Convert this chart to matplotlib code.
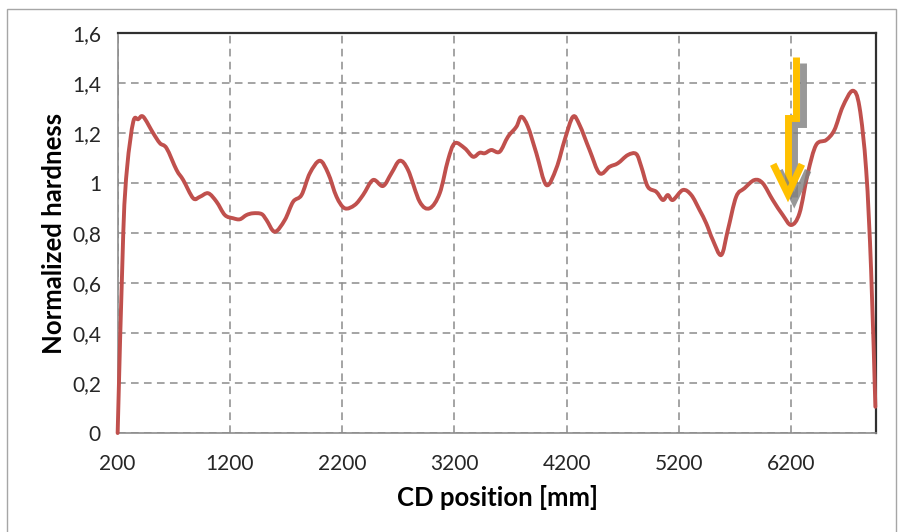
import matplotlib
matplotlib.use("Agg")
import matplotlib.pyplot as plt
import matplotlib.patheffects as pe
from matplotlib.patches import Rectangle, PathPatch
from matplotlib.path import Path

# ---- data ----
cd_position = [200, 250, 285, 339, 383, 428, 517, 577, 636, 725, 784, 873, 933, 1007,
               1081, 1155, 1229, 1289, 1348, 1407, 1482, 1526, 1600, 1689, 1763, 1838,
               1912, 2001, 2075, 2150, 2223, 2312, 2386, 2475, 2564, 2639, 2713, 2787,
               2891, 2980, 3069, 3143, 3203, 3292, 3366, 3425, 3470, 3529, 3603, 3677,
               3752, 3796, 3855, 3930, 4019, 4108, 4182, 4256, 4315, 4404, 4493, 4582,
               4656, 4745, 4820, 4865, 4923, 4998, 5057, 5101, 5146, 5235, 5310, 5384,
               5443, 5502, 5577, 5636, 5710, 5784, 5873, 5947, 6036, 6125, 6200, 6274,
               6348, 6422, 6512, 6585, 6659, 6748, 6808, 6868, 6912, 6950]
hardness = [0.0, 0.80, 1.065, 1.245, 1.255, 1.265, 1.199, 1.159, 1.139, 1.052, 1.012,
            0.939, 0.945, 0.959, 0.925, 0.872, 0.859, 0.855, 0.872, 0.879, 0.876, 0.852,
            0.805, 0.852, 0.925, 0.952, 1.039, 1.089, 1.039, 0.945, 0.899, 0.912, 0.952,
            1.012, 0.988, 1.039, 1.089, 1.052, 0.925, 0.899, 0.959, 1.092, 1.159, 1.139,
            1.105, 1.121, 1.119, 1.132, 1.125, 1.185, 1.225, 1.265, 1.225, 1.119, 0.992,
            1.059, 1.172, 1.265, 1.232, 1.132, 1.039, 1.065, 1.079, 1.112, 1.116, 1.065,
            0.985, 0.965, 0.932, 0.952, 0.932, 0.972, 0.952, 0.892, 0.839, 0.772, 0.712,
            0.812, 0.945, 0.979, 1.012, 0.999, 0.932, 0.872, 0.832, 0.879, 1.039, 1.152,
            1.172, 1.212, 1.305, 1.369, 1.305, 1.052, 0.652, 0.105]

x_ticks = [200, 1200, 2200, 3200, 4200, 5200, 6200]
y_ticks = [0, 0.2, 0.4, 0.6, 0.8, 1.0, 1.2, 1.4, 1.6]
y_tick_labels = ["0", "0,2", "0,4", "0,6", "0,8", "1", "1,2", "1,4", "1,6"]

# annotation arrow (data coordinates)
arrow_shaft_x = [6247, 6247, 6171, 6171]
arrow_shaft_y = [1.504, 1.26, 1.26, 0.97]
arrow_head_x = [6040, 6171, 6295]
arrow_head_y = [1.075, 0.955, 1.075]

FONT = "Lato"

fig = plt.figure(figsize=(9.05, 5.32), dpi=100)
fig.patch.set_facecolor("white")

# outer chart border
fig.patches.append(Rectangle((7 / 905, -0.05), (896 - 7) / 905, 1.05 - 9 / 532,
                             transform=fig.transFigure, fill=False,
                             edgecolor="#a6a6a6", linewidth=1.0))

ax = fig.add_axes([0.130, 0.186, 0.8385, 0.752])
ax.set_xlim(200, 6960)
ax.set_ylim(0, 1.6)

# smoothed line (Bezier segments through the data points, like a spreadsheet "smoothed line")
xs, ys = cd_position, hardness
n = len(xs)
verts = [(xs[0], ys[0])]
codes = [Path.MOVETO]
for i in range(n - 1):
    x0, y0 = xs[max(i - 1, 0)], ys[max(i - 1, 0)]
    x1, y1 = xs[i], ys[i]
    x2, y2 = xs[i + 1], ys[i + 1]
    x3, y3 = xs[min(i + 2, n - 1)], ys[min(i + 2, n - 1)]
    c1 = (x1 + (x2 - x0) / 6.0, y1 + (y2 - y0) / 6.0)
    c2 = (x2 - (x3 - x1) / 6.0, y2 - (y3 - y1) / 6.0)
    verts += [c1, c2, (x2, y2)]
    codes += [Path.CURVE4, Path.CURVE4, Path.CURVE4]
ax.add_patch(PathPatch(Path(verts, codes), facecolor="none", edgecolor="#C0504D",
                       linewidth=2.8, joinstyle="round", capstyle="round",
                       zorder=3, clip_on=False, transform=ax.transData))

ax.set_xticks(x_ticks)
ax.set_xticklabels([str(t) for t in x_ticks], fontsize=15, family=FONT)
ax.set_yticks(y_ticks)
ax.set_yticklabels(y_tick_labels, fontsize=15, family=FONT)
ax.tick_params(length=0, colors="#262626")
ax.tick_params(axis="x", pad=15)
ax.tick_params(axis="y", pad=12)

ax.grid(True, color="#8c8c8c", linestyle=(0, (5, 3.5)), linewidth=1.1)
ax.set_axisbelow(True)

for side in ["left", "bottom"]:
    ax.spines[side].set_color("#8c8c8c")
    ax.spines[side].set_linewidth(1.2)
for side in ["top", "right"]:
    ax.spines[side].set_color("#303030")
    ax.spines[side].set_linewidth(1.6)

ax.set_xlabel("CD position [mm]", fontsize=18.5, fontweight="bold", family=FONT, labelpad=8)
ax.set_ylabel("Normalized hardness", fontsize=18.5, fontweight="bold", family=FONT, labelpad=4)

shadow = [pe.SimpleLineShadow(offset=(4.5, -4.5), shadow_color="#7f7f7f", alpha=0.8), pe.Normal()]
ax.plot(arrow_shaft_x, arrow_shaft_y, color="#FFC000", linewidth=5,
        solid_joinstyle="miter", solid_capstyle="butt", zorder=5, clip_on=False,
        path_effects=shadow)
ax.plot(arrow_head_x, arrow_head_y, color="#FFC000", linewidth=5,
        solid_joinstyle="miter", solid_capstyle="butt", zorder=5, clip_on=False,
        path_effects=shadow)

fig.savefig("out.png", dpi=100)
